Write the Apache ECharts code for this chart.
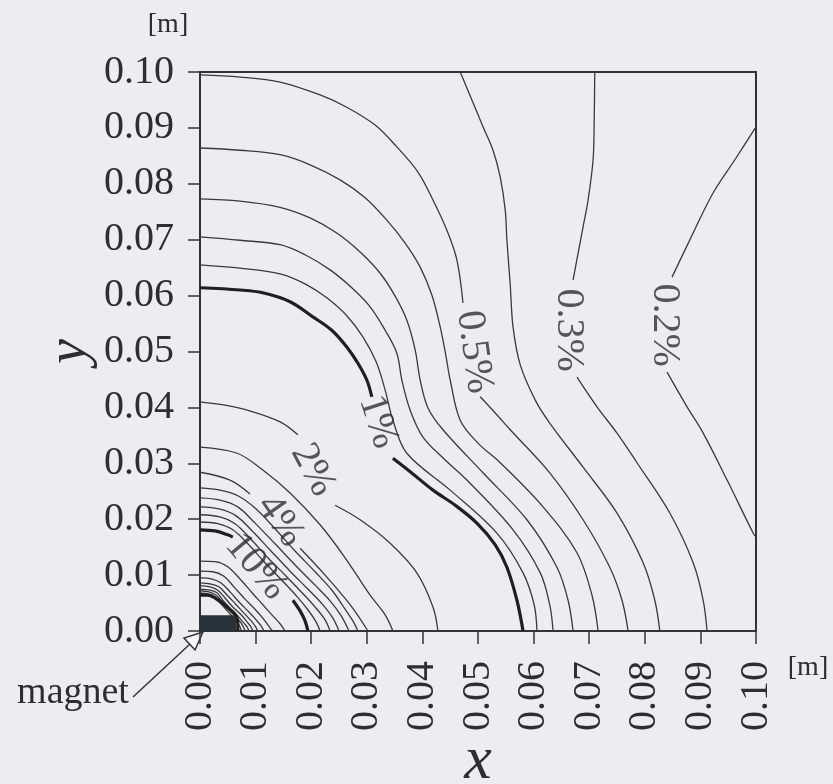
<!DOCTYPE html>
<html>
<head>
<meta charset="utf-8">
<script src="https://cdn.jsdelivr.net/npm/echarts@6/dist/echarts.min.js"></script>
<style>
html,body{margin:0;padding:0;background:#ededf0;}
#chart{width:833px;height:784px;}
</style>
</head>
<body>
<div id="chart"></div>
<script>
// ---- contour lines (x [m], y [m]); each level may be split into segments around its label ----
const c02 = [
  [[0.1000,0.0902],[0.0962,0.0843],[0.0923,0.0784],[0.0885,0.0708],[0.0849,0.0633]],
  [[0.0840,0.0463],[0.0876,0.0401],[0.0905,0.0354],[0.0948,0.0270],[0.0995,0.0175],[0.1000,0.0168]]
];
const c03 = [
  [[0.0710,0.1000],[0.0709,0.0914],[0.0707,0.0843],[0.0698,0.0771],[0.0689,0.0723],[0.0671,0.0628]],
  [[0.0678,0.0454],[0.0714,0.0401],[0.0750,0.0354],[0.0786,0.0301],[0.0845,0.0211],[0.0887,0.0122],[0.0905,0.0055],[0.0912,0]]
];
const c04 = [
  [[0.0468,0.1000],[0.0489,0.0950],[0.0509,0.0902],[0.0527,0.0860],[0.0540,0.0812],[0.0549,0.0753],[0.0552,0.0699],[0.0558,0.0619],[0.0563,0.0544],[0.0576,0.0476],[0.0603,0.0413],[0.0629,0.0372],[0.0689,0.0293],[0.0750,0.0211],[0.0797,0.0122],[0.0818,0.0055],[0.0827,0]]
];
const c05 = [
  [[0,0.0995],[0.0072,0.0991],[0.0144,0.0982],[0.0216,0.0959],[0.0264,0.0937],[0.0315,0.0905],[0.0354,0.0866],[0.0392,0.0821],[0.0419,0.0771],[0.0444,0.0717],[0.0462,0.0664],[0.0473,0.0587]],
  [[0.0504,0.0419],[0.0531,0.0390],[0.0558,0.0360],[0.0629,0.0283],[0.0689,0.0199],[0.0737,0.0114],[0.0759,0.0055],[0.0770,0]]
];
const c06 = [
  [[0,0.0864],[0.0072,0.0860],[0.0144,0.0852],[0.0198,0.0834],[0.0252,0.0807],[0.0297,0.0775],[0.0336,0.0735],[0.0369,0.0694],[0.0396,0.0651],[0.0417,0.0601],[0.0432,0.0544],[0.0442,0.0494],[0.0450,0.0449],[0.0468,0.0377],[0.0500,0.0336],[0.0540,0.0301],[0.0617,0.0222],[0.0678,0.0140],[0.0705,0.0064],[0.0716,0]]
];
const c07 = [
  [[0,0.0773],[0.0072,0.0769],[0.0144,0.0758],[0.0198,0.0739],[0.0246,0.0712],[0.0288,0.0678],[0.0324,0.0640],[0.0351,0.0599],[0.0372,0.0556],[0.0387,0.0503],[0.0396,0.0449],[0.0410,0.0399],[0.0437,0.0360],[0.0509,0.0283],[0.0588,0.0199],[0.0642,0.0114],[0.0662,0.0055],[0.0671,0]]
];
const c08 = [
  [[0,0.0705],[0.0072,0.0699],[0.0144,0.0691],[0.0189,0.0673],[0.0234,0.0646],[0.0273,0.0614],[0.0306,0.0580],[0.0333,0.0538],[0.0354,0.0497],[0.0363,0.0449],[0.0378,0.0395],[0.0401,0.0347],[0.0441,0.0306],[0.0480,0.0270],[0.0563,0.0181],[0.0612,0.0104],[0.0629,0.0047],[0.0635,0]]
];
const c09 = [
  [[0,0.0655],[0.0072,0.0649],[0.0144,0.0639],[0.0189,0.0621],[0.0228,0.0596],[0.0264,0.0564],[0.0293,0.0526],[0.0317,0.0481],[0.0333,0.0431],[0.0347,0.0377],[0.0372,0.0318],[0.0450,0.0252],[0.0534,0.0175],[0.0581,0.0104],[0.0601,0.0047],[0.0606,0]]
];
const c1 = [
  [[0,0.0614],[0.0072,0.0610],[0.0113,0.0605],[0.0162,0.0589],[0.0203,0.0562],[0.0237,0.0538],[0.0264,0.0508],[0.0284,0.0479],[0.0300,0.0449],[0.0309,0.0419]],
  [[0.0347,0.0309],[0.0383,0.0281],[0.0419,0.0252],[0.0459,0.0225],[0.0498,0.0193],[0.0531,0.0154],[0.0552,0.0114],[0.0570,0.0055],[0.0581,0]]
];
const c2 = [
  [[0,0.0410],[0.0045,0.0404],[0.0085,0.0395],[0.0144,0.0374],[0.0176,0.0351]],
  [[0.0243,0.0225],[0.0288,0.0199],[0.0342,0.0157],[0.0390,0.0104],[0.0419,0.0043],[0.0428,0]]
];
const c3 = [
  [[0,0.0329],[0.0067,0.0318],[0.0113,0.0288],[0.0162,0.0247],[0.0216,0.0190],[0.0261,0.0131],[0.0306,0.0064],[0.0333,0.0029],[0.0347,0]]
];
const c4 = [
  [[0,0.0284],[0.0054,0.0270],[0.0090,0.0245]],
  [[0.0180,0.0148],[0.0225,0.0100],[0.0270,0.0047],[0.0302,0]]
];
const c5 = [
  [[0,0.0256],[0.0036,0.0252],[0.0068,0.0242],[0.0099,0.0220],[0.0135,0.0183],[0.0171,0.0143],[0.0207,0.0106],[0.0238,0.0072],[0.0261,0.0039],[0.0275,0.0018],[0.0284,0]]
];
const c6 = [
  [[0,0.0238],[0.0036,0.0234],[0.0068,0.0222],[0.0099,0.0193],[0.0135,0.0156],[0.0171,0.0118],[0.0207,0.0082],[0.0234,0.0054],[0.0254,0.0027],[0.0268,0]]
];
const c7 = [
  [[0,0.0222],[0.0036,0.0218],[0.0065,0.0206],[0.0094,0.0179],[0.0126,0.0145],[0.0162,0.0107],[0.0194,0.0075],[0.0220,0.0048],[0.0239,0.0023],[0.0250,0]]
];
const c8 = [
  [[0,0.0208],[0.0036,0.0204],[0.0063,0.0192],[0.0090,0.0166],[0.0122,0.0131],[0.0155,0.0098],[0.0184,0.0068],[0.0207,0.0043],[0.0225,0.0020],[0.0234,0]]
];
const c9 = [
  [[0,0.0195],[0.0032,0.0192],[0.0059,0.0181],[0.0086,0.0156],[0.0117,0.0122],[0.0148,0.0090],[0.0175,0.0061],[0.0194,0.0038],[0.0209,0.0016],[0.0216,0]]
];
const c10 = [
  [[0,0.0181],[0.0027,0.0179],[0.0050,0.0172],[0.0059,0.0168]],
  [[0.0167,0.0055],[0.0180,0.0036],[0.0189,0.0018],[0.0194,0]]
];
const c20 = [[[0,0.0125],[0.0027,0.0124],[0.0050,0.0115],[0.0072,0.0093],[0.0094,0.0068],[0.0113,0.0047],[0.0131,0.0027],[0.0144,0.0013],[0.0153,0]]];
const c30 = [[[0,0.0107],[0.0023,0.0106],[0.0043,0.0098],[0.0061,0.0079],[0.0081,0.0057],[0.0099,0.0039],[0.0113,0.0023],[0.0122,0.0011],[0.0130,0]]];
const c40 = [[[0,0.0095],[0.0022,0.0093],[0.0038,0.0086],[0.0054,0.0070],[0.0072,0.0050],[0.0088,0.0034],[0.0101,0.0020],[0.0110,0.0009],[0.0115,0]]];
const c50 = [[[0,0.0086],[0.0020,0.0084],[0.0034,0.0079],[0.0049,0.0064],[0.0065,0.0047],[0.0079,0.0032],[0.0092,0.0018],[0.0099,0.0009],[0.0104,0]]];
const c60 = [[[0,0.0081],[0.0018,0.0079],[0.0032,0.0073],[0.0045,0.0059],[0.0059,0.0043],[0.0074,0.0029],[0.0085,0.0016],[0.0092,0.0007],[0.0095,0]]];
const c70 = [[[0,0.0075],[0.0018,0.0073],[0.0031,0.0068],[0.0041,0.0055],[0.0056,0.0039],[0.0068,0.0027],[0.0079,0.0014],[0.0085,0.0007],[0.0088,0]]];
const c80 = [[[0,0.0072],[0.0016,0.0070],[0.0029,0.0064],[0.0040,0.0052],[0.0052,0.0038],[0.0063,0.0027],[0.0074,0.0014],[0.0079,0.0005],[0.0081,0]]];
const c90 = [[[0,0.0068],[0.0016,0.0066],[0.0027,0.0061],[0.0038,0.0048],[0.0049,0.0036],[0.0059,0.0025],[0.0068,0.0014],[0.0072,0.0007],[0.0074,0]]];
const c100 = [[[0,0.0064],[0.0014,0.0064],[0.0027,0.0059],[0.0040,0.0050],[0.0050,0.0041],[0.0059,0.0034],[0.0065,0.0027],[0.0068,0.0014],[0.0068,0]]];

const thinLevels = [c02,c03,c04,c05,c06,c07,c08,c09,c2,c3,c4,c5,c6,c7,c8,c9,c20,c30,c40,c50,c60,c70,c80,c90];
const thickLevels = [c1,c10,c100];

// contour labels
const labelText = ['0.2%','0.3%','0.5%','1%','2%','4%','10%'];
const labelX = [0.0836,0.0662,0.0493,0.0320,0.0203,0.0144,0.0101];
const labelY = [0.0547,0.0538,0.0499,0.0374,0.0288,0.0197,0.0115];

// magnet block
const magnetX = [0, 0.0065];
const magnetY = [0, 0.0028];

// axes
const axisMin = 0, axisMax = 0.1, axisStep = 0.01;

// ---- styles ----
const SERIF = "'Liberation Serif','DejaVu Serif',serif";
const INK = '#2e2e2e';
const labelRotate = [-90,-90,-82,-72,-62,-55,-50];

const series = [];
function addLevel(segs, width, color) {
  segs.forEach(s => series.push({
    type:'line', data:s, smooth:0.35, symbol:'none', silent:true,
    lineStyle:{width:width, color:color}, z:3
  }));
}
thinLevels.forEach(l => addLevel(l, 1.3, '#3a3a3a'));
thickLevels.forEach(l => addLevel(l, 3.2, '#1f1f1f'));

series.push({
  type:'scatter', symbol:'circle', symbolSize:1, silent:true, z:5,
  itemStyle:{color:'rgba(0,0,0,0)'},
  label:{show:true, position:'inside', formatter:'{b}', fontFamily:SERIF, fontSize:40, color:INK},
  data: labelText.map((t,i)=>({name:t, value:[labelX[i],labelY[i]], label:{rotate:labelRotate[i]}}))
});

series.push({
  type:'custom', silent:true, z:6,
  data:[[magnetX[0], magnetY[0], magnetX[1], magnetY[1]]],
  renderItem:function(params, api){
    const p0 = api.coord([api.value(0), api.value(3)]);
    const p1 = api.coord([api.value(2), api.value(1)]);
    return {type:'rect', shape:{x:p0[0], y:p0[1], width:p1[0]-p0[0], height:p1[1]-p0[1]},
            style:{fill:'#26313a'}};
  }
});

const chart = echarts.init(document.getElementById('chart'), null, {renderer:'canvas'});
chart.setOption({
  animation:false,
  backgroundColor:'#ededf0',
  grid:{left:200, right:77, top:72, bottom:153, containLabel:false, outerBoundsMode:'none',
        show:true, borderColor:'#333', borderWidth:2, backgroundColor:'transparent'},
  xAxis:{
    type:'value', min:axisMin, max:axisMax, interval:axisStep,
    name:'x', nameLocation:'middle', nameGap:100, nameMoveOverlap:false,
    nameTextStyle:{fontFamily:SERIF, fontStyle:'italic', fontSize:62, color:INK},
    axisLine:{show:true, lineStyle:{color:'#333', width:2}},
    axisTick:{show:true, inside:false, length:13, lineStyle:{color:'#333', width:1.5}},
    axisLabel:{rotate:90, margin:30, fontFamily:SERIF, fontSize:40, color:INK, formatter:v=>v.toFixed(2)},
    splitLine:{show:false}
  },
  yAxis:{
    type:'value', min:axisMin, max:axisMax, interval:axisStep,
    name:'y', nameLocation:'middle', nameRotate:90, nameGap:102, nameMoveOverlap:false,
    nameTextStyle:{fontFamily:SERIF, fontStyle:'italic', fontSize:56, color:INK},
    axisLine:{show:true, lineStyle:{color:'#333', width:2}},
    axisTick:{show:true, inside:false, length:12, lineStyle:{color:'#333', width:1.5}},
    axisLabel:{margin:26, fontFamily:SERIF, fontSize:40, color:INK, formatter:v=>v.toFixed(2)},
    splitLine:{show:false}
  },
  graphic:[
    {type:'text', style:{text:'[m]', x:168, y:25, align:'center', verticalAlign:'middle', font:'28px '+SERIF, fill:INK}},
    {type:'text', style:{text:'[m]', x:808, y:668, align:'center', verticalAlign:'middle', font:'28px '+SERIF, fill:INK}},
    {type:'text', style:{text:'magnet', x:73, y:693, align:'center', verticalAlign:'middle', font:'38px '+SERIF, fill:INK}},
    {type:'line', shape:{x1:133, y1:697, x2:190, y2:644}, style:{stroke:'#333', lineWidth:1.5}},
    {type:'polygon', shape:{points:[[203,632],[195,650],[184,638]]}, style:{fill:'#f7f7f7', stroke:'#333', lineWidth:1.5}}
  ],
  series:series
});
</script>
</body>
</html>
